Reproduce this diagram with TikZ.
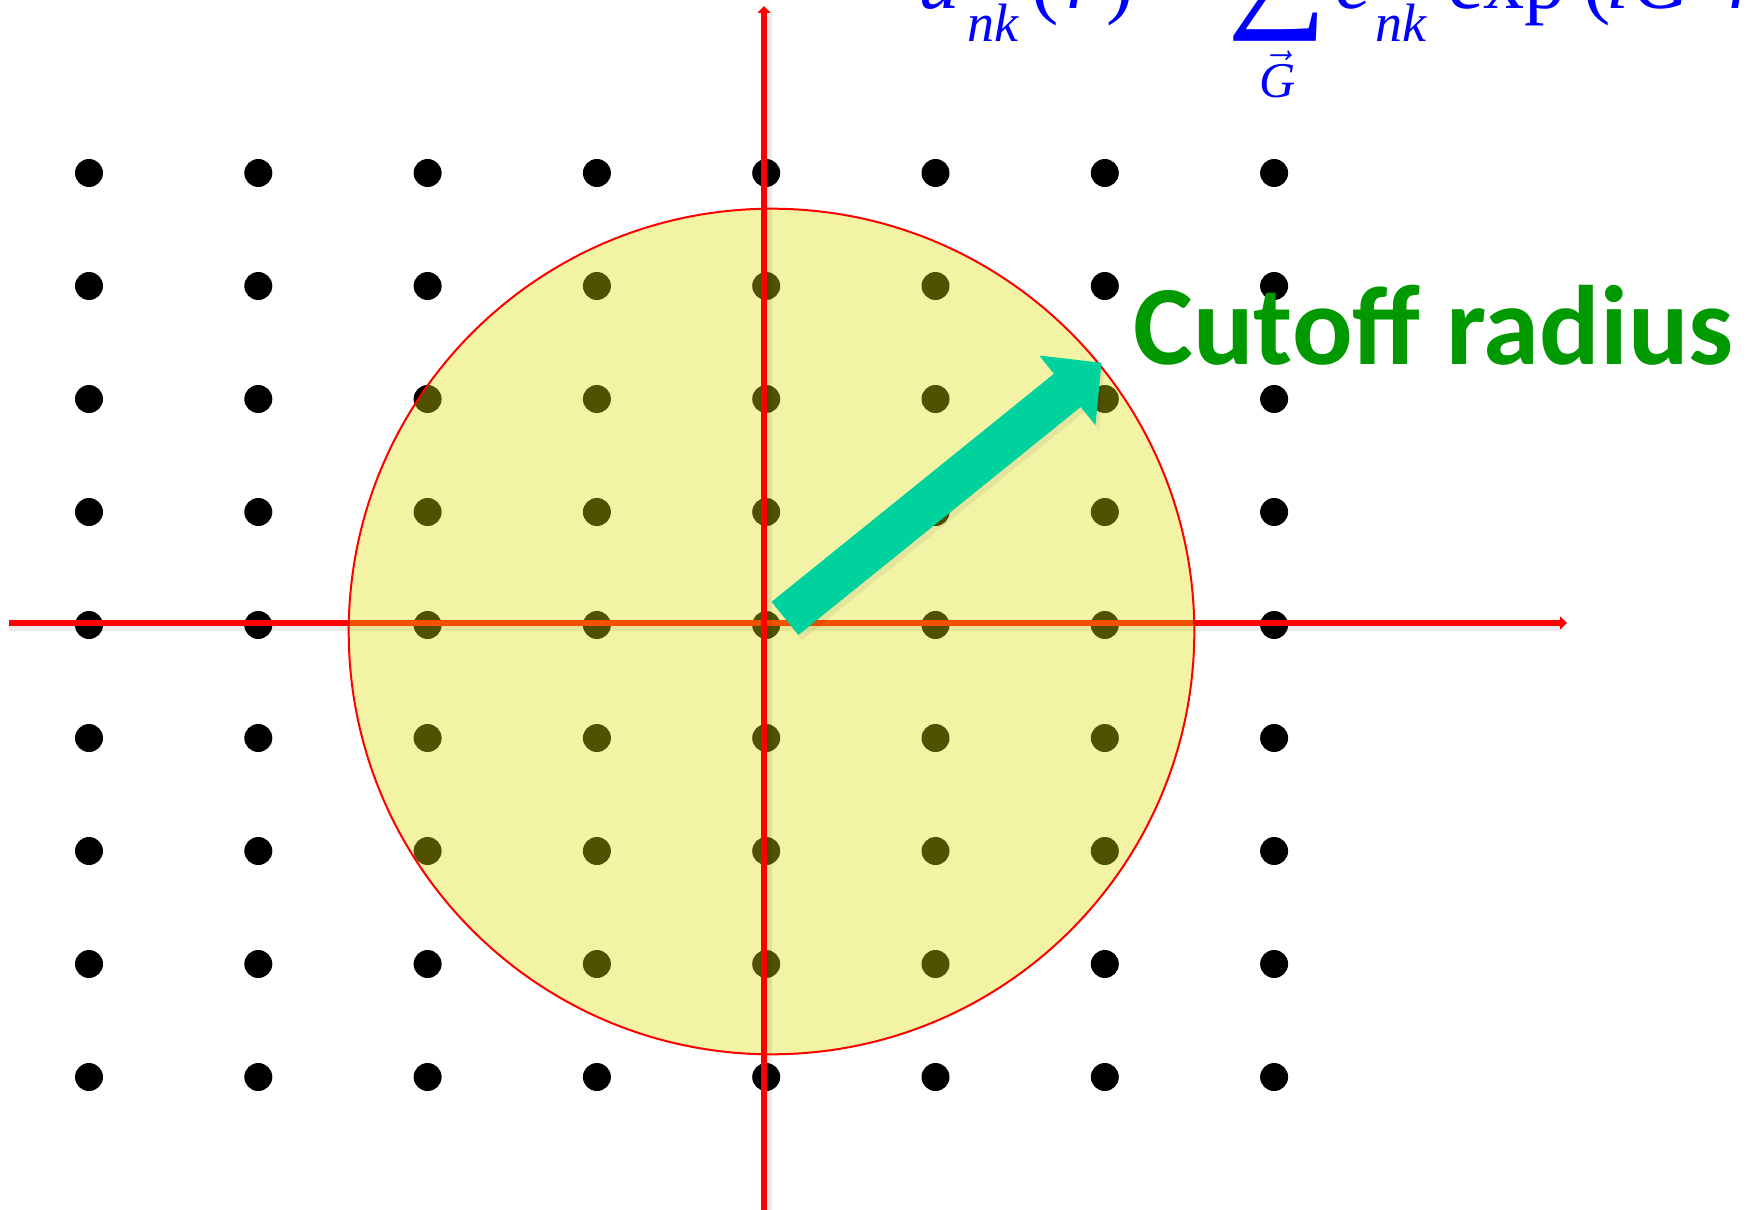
\RequirePackage{fix-cm}
\documentclass[tikz,border=0pt]{standalone}
\usepackage{amsmath}
\usepackage{fontspec}
\setmainfont{Liberation Serif}
\newfontfamily\calibrifont{Carlito}
\usetikzlibrary{arrows.meta}
\definecolor{axred}{RGB}{255,0,0}
\definecolor{lemon}{RGB}{222,222,12}
\definecolor{cutgreen}{RGB}{0,153,0}
\definecolor{eqblue}{RGB}{0,0,255}
\definecolor{tealarrow}{RGB}{0,210,157}
\begin{document}
\begin{tikzpicture}[x=0.5pt,y=-0.5pt,
  latdot/.style={fill=black},
  axisline/.style={draw=axred, line width=3pt, -{Triangle[length=3.5pt,width=6.5pt]}},
  axshadow/.style={draw=black, opacity=0.08, line width=3pt},
  eqmain/.style={inner sep=0pt, anchor=base west, text=eqblue, font=\fontsize{41}{41}\selectfont},
  eqit/.style={eqmain, font=\fontsize{41}{41}\selectfont\itshape},
  eqsub/.style={inner sep=0pt, anchor=base west, text=eqblue, font=\fontsize{27}{27}\selectfont\itshape},
  bigarrow/.style={draw=tealarrow, line width=21.3pt, -{Triangle[length=22pt,width=43.4pt]}},
  bigshadow/.style={draw=black, opacity=0.06, line width=22pt, -{Triangle[length=22pt,width=44pt]}}
]
\useasboundingbox (0,0) rectangle (1748,1209);
\clip (0,0) rectangle (1748,1209);

% lattice points
\foreach \i in {0,...,7}
  \foreach \j in {0,...,8}
    \fill[latdot] ({89+169.3*\i},{173+113*\j}) circle (14);

% horizontal axis (under the disc)
\coordinate (xl) at (9,623);
\coordinate (xr) at (1567,623);
\coordinate (xls) at (9,628);
\coordinate (xrs) at (1560,628);
\draw[axshadow] (xls) -- (xrs);
\draw[axisline] (xl) -- (xr);

% disc
\coordinate (C) at (771.5,631.5);
\fill[lemon, opacity=0.37] (C) circle (422.8);
\draw[axred, line width=1pt] (C) circle (422.8);

% vertical axis (over the disc)
\coordinate (yb) at (764,1215);
\coordinate (yt) at (764,6);
\coordinate (ybs) at (769,1215);
\coordinate (yts) at (769,14);
\draw[axshadow] (ybs) -- (yts);
\draw[axisline] (yb) -- (yt);

% cutoff radius arrow
\coordinate (tail) at (785,618.35);
\coordinate (tip) at (1101.6,362.7);
\coordinate (tails) at (788,623);
\coordinate (tips) at (1104.6,367.4);
\draw[bigshadow] (tails) -- (tips);
\draw[bigarrow] (tail) -- (tip);

% label
\node[anchor=base west, inner sep=0pt, text=cutgreen,
      font=\calibrifont\bfseries\fontsize{56.5}{56.5}\selectfont] (cut) at (1133,364) {Cutoff radius};

% formula (clipped at top edge)
\node[eqit] (u) at (918,9) {u};
\node[eqsub] (nk1) at (967,42) {nk};
\node[eqmain] (lp1) at (1031,9) {(};
\node[eqit] (r1) at (1066,9) {r};
\node[eqmain] (rp1) at (1106,9) {)};
\node[eqmain] (eq) at (1160,9) {=};
\node[inner sep=0pt, anchor=south, text=eqblue, font=\fontsize{70}{70}\selectfont] (sum) at (1277.5,42) {∑};
\node[inner sep=0pt, anchor=base, text=eqblue, font=\fontsize{25}{25}\selectfont] (Gs) at (1277.5,98) {$\vec{\textit{G}}$};
\node[eqit] (c) at (1335,9) {c};
\node[eqsub] (nk2) at (1375,42) {nk};
\node[eqmain] (exp) at (1447,9) {exp};
\node[eqmain] (lp2) at (1583,9) {(};
\node[eqit] (i) at (1606,9) {i};
\node[eqit] (G) at (1632,9) {G};
\node[eqit] (r2) at (1728,9) {r};
\end{tikzpicture}
\end{document}
